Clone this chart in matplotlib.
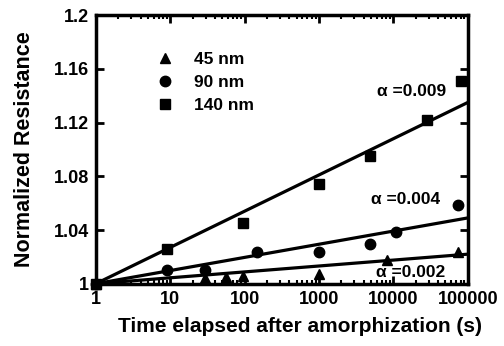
import matplotlib
matplotlib.use("Agg")
import matplotlib.pyplot as plt
from matplotlib.ticker import LogLocator, NullFormatter, FixedLocator
import numpy as np

plt.rcParams["font.family"] = ["Liberation Sans", "DejaVu Sans"]
plt.rcParams["font.weight"] = "bold"

# 45 nm
t_45 = [1, 29, 57, 94, 1000, 8300, 75000]
r_45 = [1.0, 1.004, 1.005, 1.006, 1.007, 1.0175, 1.024]
# 90 nm
t_90 = [1, 9, 29, 145, 1000, 4800, 11000, 75000]
r_90 = [1.0, 1.010, 1.010, 1.024, 1.024, 1.0295, 1.0385, 1.059]
# 140 nm
t_140 = [1, 9, 94, 1000, 4900, 28600, 81000]
r_140 = [1.0, 1.026, 1.0455, 1.074, 1.095, 1.122, 1.151]

# fitted lines (value at t=1 and t=1e5)
fit_t = [1, 100000]
fit_45 = [1.0, 1.022]
fit_90 = [1.0, 1.049]
fit_140 = [1.0, 1.135]

alpha_labels = ["\u03b1 =0.009", "\u03b1 =0.004", "\u03b1 =0.002"]
alpha_pos = [(6000, 1.143), (5000, 1.063), (5800, 1.008)]

fig = plt.figure(figsize=(5.04, 3.46), dpi=100)
ax = fig.add_axes([0.19, 0.18, 0.738, 0.776])

ax.plot(t_45, r_45, "^", color="black", ms=7.5, label="45 nm", clip_on=False, zorder=3)
ax.plot(t_90, r_90, "o", color="black", ms=7.5, label="90 nm", clip_on=False, zorder=3)
ax.plot(t_140, r_140, "s", color="black", ms=7.5, label="140 nm", clip_on=False, zorder=3)

for fv in (fit_45, fit_90, fit_140):
    ax.plot(fit_t, fv, "-", color="black", lw=2.3, zorder=2)

for lab, (x, y) in zip(alpha_labels, alpha_pos):
    ax.text(x, y, lab, fontsize=12.5, fontweight="bold", ha="left", va="center")

ax.set_xscale("log")
ax.set_xlim(1, 100000)
ax.set_ylim(1.0, 1.2)
ax.set_xticks([1, 10, 100, 1000, 10000, 100000])
ax.set_xticklabels(["1", "10", "100", "1000", "10000", "100000"])
ax.xaxis.set_minor_locator(LogLocator(base=10, subs=np.arange(2, 10)))
ax.xaxis.set_minor_formatter(NullFormatter())
ax.yaxis.set_major_locator(FixedLocator([1.0, 1.04, 1.08, 1.12, 1.16, 1.2]))
ax.set_yticklabels(["1", "1.04", "1.08", "1.12", "1.16", "1.2"])

ax.tick_params(axis="both", which="major", direction="in", length=6, width=2,
               labelsize=13, top=True, right=True, pad=5)
ax.tick_params(axis="both", which="minor", direction="in", length=3, width=1.5,
               top=True, right=True)
for s in ax.spines.values():
    s.set_linewidth(2.5)

ax.set_xlabel("Time elapsed after amorphization (s)", fontsize=15, fontweight="bold")
ax.xaxis.set_label_coords(0.55, -0.125)
ax.set_ylabel("Normalized Resistance", fontsize=15.5, fontweight="bold")
ax.yaxis.set_label_coords(-0.163, 0.5)

ax.legend(loc="upper left", bbox_to_anchor=(0.12, 0.92), frameon=False, fontsize=12.5,
          handletextpad=1.2, labelspacing=0.45, handlelength=1.0)

fig.savefig("out.png", dpi=100)
